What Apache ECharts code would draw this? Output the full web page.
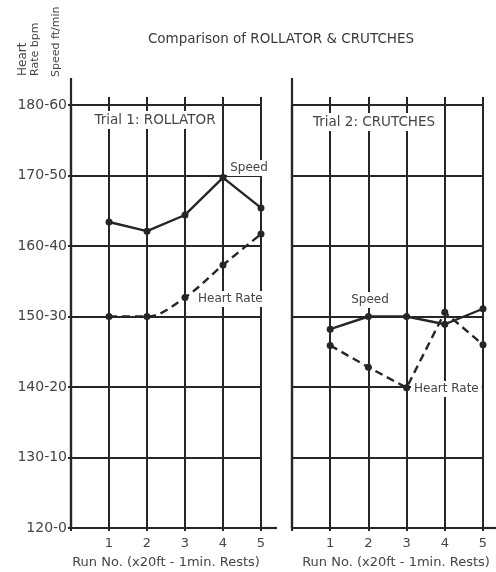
<!DOCTYPE html>
<html><head><meta charset="utf-8">
<script src="https://cdn.jsdelivr.net/npm/echarts@6/dist/echarts.min.js"></script>
<style>html,body{margin:0;padding:0;background:#fff}#c{width:496px;height:572px}</style>
</head><body><div id="c"></div>
<script>
// ---- data ----
const runs = [1, 2, 3, 4, 5];
const xTickLabels = ['1', '2', '3', '4', '5'];
const hrTicks = [120, 130, 140, 150, 160, 170, 180];
const speedTicks = [0, 10, 20, 30, 40, 50, 60];
const rollatorSpeed = [43.4, 42.1, 44.4, 49.7, 45.4];
const rollatorHR = [150, 150, 152.7, 157.3, 161.7];
const crutchesSpeed = [28.2, 30, 30, 28.9, 31.1];
const crutchesHR = [145.9, 142.8, 139.9, 150.6, 146];

const FONT = 'DejaVu Sans';
const INK = '#262626';
const TXT = '#454545';

const pairs = (vals) => vals.map((v, i) => [runs[i], v]);

function xAxisBottom(gi) {
  return {
    type: 'value', gridIndex: gi, min: 0, max: 5, interval: 1, position: 'bottom',
    axisLine: { show: true, lineStyle: { color: INK, width: 2.2 } },
    axisTick: { show: true, length: 3, lineStyle: { color: INK, width: 2 } },
    splitLine: { show: true, lineStyle: { color: INK, width: 2 } },
    axisLabel: {
      margin: 9, color: TXT, fontFamily: FONT, fontSize: 13,
      formatter: (v) => { const i = runs.indexOf(v); return i < 0 ? '' : xTickLabels[i]; }
    }
  };
}
function xAxisTop(gi) {
  return {
    type: 'value', gridIndex: gi, min: 0, max: 5, interval: 1, position: 'top',
    axisLine: { show: true, lineStyle: { color: INK, width: 2 } },
    axisTick: { show: true, length: 8, lineStyle: { color: INK, width: 2 } },
    splitLine: { show: false }, axisLabel: { show: false }
  };
}
function yAxisHR(gi, labels) {
  return {
    type: 'value', gridIndex: gi, min: 120, max: 180, interval: 10,
    axisLine: { show: true, lineStyle: { color: INK, width: 2.4 } },
    axisTick: { show: labels, length: 3, lineStyle: { color: INK, width: 2 } },
    splitLine: { show: true, lineStyle: { color: INK, width: 2 } },
    axisLabel: {
      show: labels, margin: 4, color: TXT, fontFamily: FONT, fontSize: 14,
      formatter: (v) => { const i = hrTicks.indexOf(v); return i < 0 ? '' : hrTicks[i] + '-' + speedTicks[i]; }
    }
  };
}
function yAxisSpeed(gi) {
  return { type: 'value', gridIndex: gi, min: 0, max: 60, interval: 10, show: false };
}
function lineSeries(xi, yi, vals, dashed, smooth) {
  return {
    type: 'line', xAxisIndex: xi, yAxisIndex: yi, data: pairs(vals),
    symbol: 'circle', symbolSize: 7, smooth: smooth,
    itemStyle: { color: INK },
    lineStyle: { color: INK, width: 2.4, type: dashed ? [8, 5] : 'solid' },
    z: 5
  };
}

function label(text, x, y, align, size) {
  return {
    type: 'text', x: x, y: y, z: 1,
    style: {
      text: text, fill: TXT, font: (size || 12) + 'px "' + FONT + '"',
      textAlign: align || 'left', textVerticalAlign: 'middle',
      backgroundColor: '#fff', padding: [2, 3]
    }
  };
}
function vtext(text, x, y, size) {
  return {
    type: 'text', x: x, y: y, rotation: Math.PI / 2, z: 1,
    style: { text: text, fill: TXT, font: (size || 12) + 'px "' + FONT + '"', textAlign: 'left', textVerticalAlign: 'middle' }
  };
}
function seg(x1, y1, x2, y2) {
  return { type: 'line', z: 1, shape: { x1: x1, y1: y1, x2: x2, y2: y2 }, style: { stroke: INK, lineWidth: 2.2 } };
}

const chart = echarts.init(document.getElementById('c'), null, { renderer: 'canvas' });
chart.setOption({
  animation: false,
  backgroundColor: '#fff',
  grid: [
    { left: 71, top: 105, width: 190, height: 423 },
    { left: 292, top: 105, width: 191, height: 423 }
  ],
  xAxis: [xAxisBottom(0), xAxisTop(0), xAxisBottom(1), xAxisTop(1)],
  yAxis: [yAxisHR(0, true), yAxisSpeed(0), yAxisHR(1, false), yAxisSpeed(1)],
  series: [
    lineSeries(0, 1, rollatorSpeed, false, false),
    lineSeries(0, 0, rollatorHR, true, 0.35),
    lineSeries(2, 3, crutchesSpeed, false, false),
    lineSeries(2, 2, crutchesHR, true, false)
  ],
  graphic: [
    { type: 'text', x: 281, y: 39, style: { text: 'Comparison of ROLLATOR & CRUTCHES', fill: '#3a3a3a', font: '13.5px "' + FONT + '"', textAlign: 'center', textVerticalAlign: 'middle' } },
    vtext('Heart', 23, 76, 12),
    vtext('Rate bpm', 35, 76, 11),
    vtext('Speed ft/min', 56, 77, 11),
    seg(71, 78, 71, 105),
    seg(292, 78, 292, 105),
    seg(261, 528, 277, 528),
    seg(483, 528, 496, 528),
    label('Trial 1: ROLLATOR', 155, 120, 'center', 13.5),
    label('Trial 2: CRUTCHES', 374, 122, 'center', 13.5),
    label('Speed', 249, 168, 'center', 12),
    label('Heart Rate', 195, 299, 'left', 12),
    label('Speed', 370, 300, 'center', 12),
    label('Heart Rate', 411, 389, 'left', 12),
    { type: 'text', x: 166, y: 563, style: { text: 'Run No. (x20ft - 1min. Rests)', fill: TXT, font: '13px "' + FONT + '"', textAlign: 'center', textVerticalAlign: 'middle' } },
    { type: 'text', x: 396, y: 563, style: { text: 'Run No. (x20ft - 1min. Rests)', fill: TXT, font: '13px "' + FONT + '"', textAlign: 'center', textVerticalAlign: 'middle' } }
  ]
});
</script></body></html>
